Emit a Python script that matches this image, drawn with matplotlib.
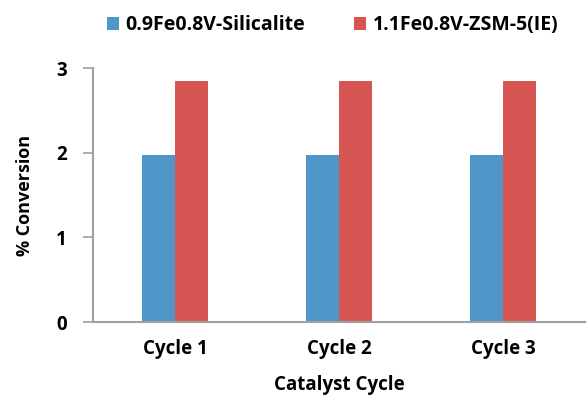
import numpy as np
import matplotlib.pyplot as plt

# data
cycles = ['Cycle 1', 'Cycle 2', 'Cycle 3']
silicalite = [1.97, 1.97, 1.97]
zsm5 = [2.85, 2.85, 2.85]
series_names = ['0.9Fe0.8V-Silicalite', '1.1Fe0.8V-ZSM-5(IE)']

plt.rcParams['font.family'] = ['Open Sans', 'DejaVu Sans']
plt.rcParams['font.weight'] = 'bold'

fig = plt.figure(figsize=(5.87, 3.96), dpi=100)
ax = fig.add_axes([93 / 587, (396 - 322) / 396, (585 - 93) / 587, (322 - 68) / 396])

x = np.arange(len(cycles))
w = 0.2
ax.bar(x - w / 2, silicalite, w, color='#4F97C9', label=series_names[0])
ax.bar(x + w / 2, zsm5, w, color='#D75553', label=series_names[1])

ax.set_xlim(-0.5, 2.5)
ax.set_ylim(0, 3)
ax.set_yticks([0, 1, 2, 3])
ax.set_xticks(x)
ax.set_xticklabels(cycles, fontsize=13.5, fontweight='bold')
ax.tick_params(axis='y', labelsize=13.5, length=7, width=1.2, color='#A0A0A0', pad=12)
ax.tick_params(axis='x', length=0, pad=12)
for lbl in ax.get_yticklabels():
    lbl.set_fontweight('bold')

for s in ['top', 'right']:
    ax.spines[s].set_visible(False)
for s in ['left', 'bottom']:
    ax.spines[s].set_color('#A0A0A0')
    ax.spines[s].set_linewidth(1.5)

ax.set_ylabel('% Conversion', fontsize=13, fontweight='bold', labelpad=16)
ax.set_xlabel('Catalyst Cycle', fontsize=13.5, fontweight='bold', labelpad=12)

ax.legend(loc='center', bbox_to_anchor=(0.487, 1.169), ncol=2, frameon=False,
          handlelength=0.62, handleheight=0.62, columnspacing=2.5,
          handletextpad=0.36, prop={'weight': 'bold', 'size': 14})

fig.savefig('out.png', dpi=100)
